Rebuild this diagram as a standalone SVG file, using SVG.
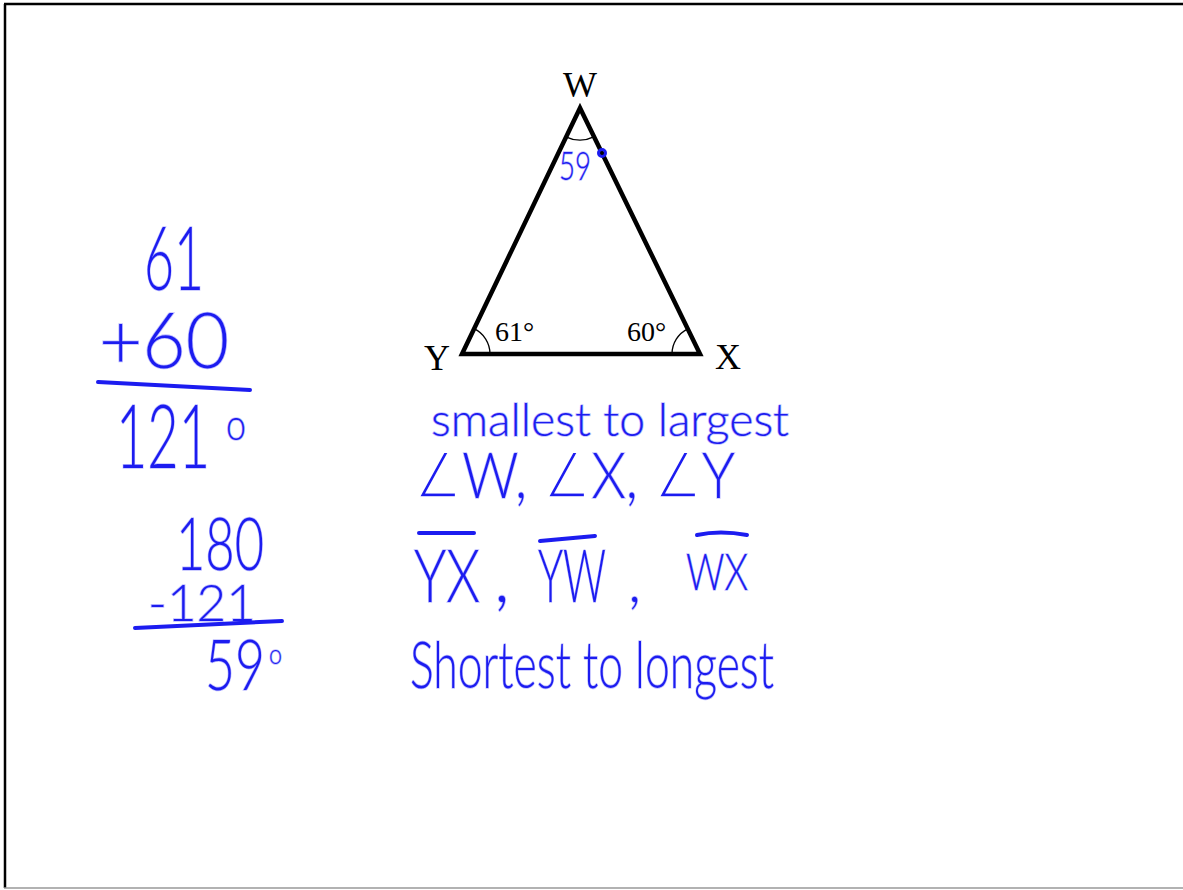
<svg xmlns="http://www.w3.org/2000/svg" width="1183" height="890" viewBox="0 0 1183 890">
<style>
.hw{font-family:Lato,"Open Sans","DejaVu Sans",sans-serif;font-weight:300;fill:#1c1cf0;stroke:#8c8cff;stroke-width:1.6;stroke-opacity:0.55;paint-order:stroke}
.ang{font-family:"DejaVu Sans ExtraLight","DejaVu Sans",sans-serif;font-weight:200;stroke:#fff;stroke-width:3.5;stroke-opacity:1;paint-order:fill stroke}
.ink{stroke:#1c1cf0;stroke-width:4;fill:none;stroke-linecap:round}
.lbl{font-family:"Liberation Serif","Times New Roman",serif;fill:#000}
.arc{stroke:#000;stroke-width:1.3;fill:none}
</style>
<rect x="0" y="0" width="1183" height="890" fill="#fff"/>
<g id="frame">
<line x1="4" y1="4" x2="1183" y2="4" stroke="#000" stroke-width="2.5"/>
<line x1="5" y1="4" x2="5" y2="888" stroke="#000" stroke-width="2.5"/>
<line x1="4" y1="888" x2="1183" y2="888" stroke="#999" stroke-width="1.5"/>
</g>
<g id="triangle">
<polygon points="580,108 462,354 700,354" fill="none" stroke="#000" stroke-width="4.5" stroke-linejoin="miter"/>
<path class="arc" d="M565.8,136.8 A33,33 0 0 0 594.4,136.7"/>
<path class="arc" d="M490,354 A28,28 0 0 0 474.1,328.7"/>
<path class="arc" d="M672,354 A28,28 0 0 1 687.8,328.8"/>
<text class="lbl" x="580" y="97" font-size="36" text-anchor="middle">W</text>
<text class="lbl" x="437" y="370" font-size="36" text-anchor="middle">Y</text>
<text class="lbl" x="728" y="369" font-size="36" text-anchor="middle">X</text>
<text class="lbl" x="495" y="341" font-size="28">61°</text>
<text class="lbl" x="627" y="341" font-size="28">60°</text>
<text class="hw" x="559" y="180" font-size="40" font-weight="400" textLength="32" lengthAdjust="spacingAndGlyphs">59</text>
<circle cx="602" cy="153" r="3.5" fill="none" stroke="#1c1cf0" stroke-width="3"/>
</g>
<g id="sum">
<text class="hw" x="144" y="290" font-size="88" textLength="60" lengthAdjust="spacingAndGlyphs">61</text>
<text class="hw" x="99" y="368" font-size="76" textLength="130" lengthAdjust="spacingAndGlyphs">+60</text>
<path class="ink" d="M98,382 L250,390"/>
<text class="hw" x="116" y="468" font-size="88"><tspan textLength="94" lengthAdjust="spacingAndGlyphs">121</tspan><tspan x="226" y="440" font-size="44" textLength="20" lengthAdjust="spacingAndGlyphs">o</tspan></text>
</g>
<g id="difference">
<text class="hw" x="176" y="570" font-size="72" textLength="88" lengthAdjust="spacingAndGlyphs">180</text>
<text class="hw" x="148" y="621" font-size="52" textLength="108" lengthAdjust="spacingAndGlyphs">-121</text>
<path class="ink" d="M135,628 L282,621"/>
<text class="hw" x="205" y="690" font-size="70"><tspan textLength="60" lengthAdjust="spacingAndGlyphs">59</tspan><tspan x="269" y="664" font-size="28" textLength="13" lengthAdjust="spacingAndGlyphs">o</tspan></text>
</g>
<g id="angles">
<text class="hw" x="431" y="436" font-size="46" textLength="358" lengthAdjust="spacingAndGlyphs">smallest to largest</text>
<text class="hw" x="413" y="498" font-size="64" textLength="322" lengthAdjust="spacingAndGlyphs"><tspan class="ang">∠</tspan>W, <tspan class="ang">∠</tspan>X, <tspan class="ang">∠</tspan>Y</text>
</g>
<g id="sides">
<text class="hw" x="414" y="602" font-size="72"><tspan textLength="66" lengthAdjust="spacingAndGlyphs">YX</tspan><tspan x="494">,</tspan><tspan x="538" textLength="68" lengthAdjust="spacingAndGlyphs">YW</tspan><tspan x="628" font-size="60">,</tspan><tspan x="686" y="590" font-size="52" textLength="62" lengthAdjust="spacingAndGlyphs">WX</tspan></text>
<path class="ink" d="M419,533 L474,533"/>
<path class="ink" d="M540,541 L595,536"/>
<path class="ink" d="M697,535 Q720,530 747,535"/>
</g>
<g id="lengths">
<text class="hw" x="410" y="688" font-size="66" textLength="364" lengthAdjust="spacingAndGlyphs">Shortest to longest</text>
</g>
</svg>
